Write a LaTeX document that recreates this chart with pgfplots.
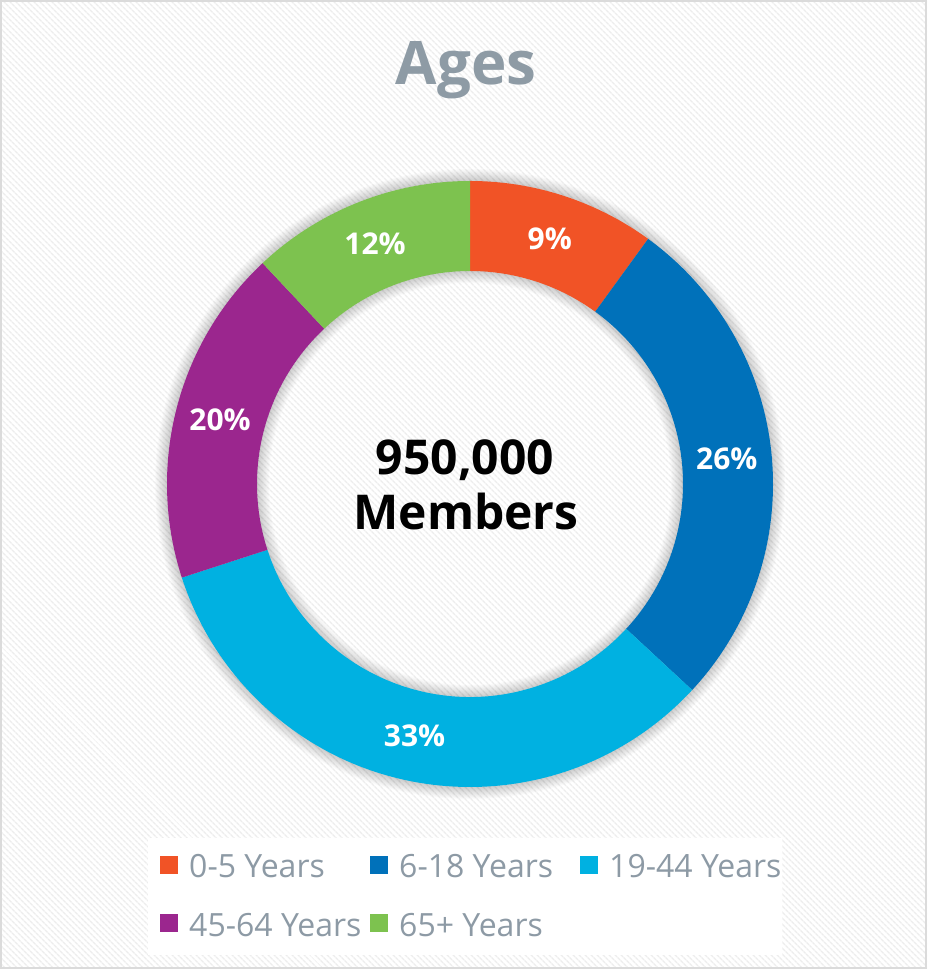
\documentclass[border=0pt]{standalone}
\usepackage{pgfplots}
\pgfplotsset{compat=1.18}
\usepackage{pgfplotstable}
\usetikzlibrary{patterns.meta}
\usepackage{fontspec}
\setmainfont{Open Sans}
\definecolor{c0}{HTML}{F15326}
\definecolor{c1}{HTML}{0071BA}
\definecolor{c2}{HTML}{00B1E1}
\definecolor{c3}{HTML}{9B268E}
\definecolor{c4}{HTML}{7DC24F}
\definecolor{titlegray}{HTML}{8E9BA5}
\definecolor{leggray}{HTML}{8D9AA5}
\newcommand\pctfont{\fontsize{30}{36}\selectfont\bfseries}
% share of the ring (as drawn) and the printed percentage
\pgfplotstableread{
share label
10.0 9
26.9 26
33.1 33
18.0 20
12.0 12
}\agedata
\begin{document}
\begin{tikzpicture}
\begin{axis}[x=1pt,y=1pt,xmin=0,xmax=927,ymin=0,ymax=969,hide axis,clip=false,
  legend columns=3, legend cell align=left,
  legend image code/.code={\fill[#1,draw=none] (0pt,-7pt) rectangle (18pt,11pt);},
  legend style={at={(axis description cs:0.1726,0.1207)}, anchor=north west,
    draw=none, fill=none, inner xsep=0pt, inner ysep=0pt,
    font=\fontsize{32}{38}\selectfont, text=leggray, row sep=30pt,
    /tikz/every odd column/.append style={column sep=9pt},
    /tikz/every even column/.append style={column sep=4pt}}]
% background
\fill[white] (axis cs:0,0) rectangle (axis cs:927,969);
\fill[pattern={Lines[angle=-45,distance=4pt,line width=1.5pt]}, pattern color=black!7] (axis cs:0,0) rectangle (axis cs:927,969);
\draw[black!14, line width=2pt] (axis cs:1,1) rectangle (axis cs:926,968);
% legend box
\fill[white] (axis cs:148,14) rectangle (axis cs:782,131);
% shadow
\pgfplotsinvokeforeach{1,...,12}{
  \draw[black, opacity=0.016, line width=90pt+#1*2pt] (axis cs:470,485) circle[radius=258];
}
% sectors
\def\cum{90}
\pgfplotsforeachungrouped \i in {0,...,4}{%
  \pgfplotstablegetelem{\i}{share}\of\agedata \let\v=\pgfplotsretval
  \pgfplotstablegetelem{\i}{label}\of\agedata \let\lab=\pgfplotsretval
  \pgfmathsetmacro{\ea}{\cum-3.6*\v}%
  \pgfmathsetmacro{\ma}{(\cum+\ea)/2}%
  \pgfmathsetmacro{\lx}{470+258*cos(\ma)}%
  \pgfmathsetmacro{\ly}{485+258*sin(\ma)}%
  \edef\temp{\noexpand\fill[c\i] (axis cs:470,485) ++(\cum:303) arc[start angle=\cum, end angle=\ea, radius=303] -- ++(\ea:-90) arc[start angle=\ea, end angle=\cum, radius=213] -- cycle;
    \noexpand\node[text=white, font=\noexpand\pctfont] at (axis cs:\lx,\ly) {\lab\noexpand\%};}%
  \temp
  \global\let\cum=\ea
}
% title and centre text
\node[anchor=base, font=\fontsize{60}{72}\selectfont\bfseries, text=titlegray] at (axis cs:466,884) {Ages};
\node[anchor=base, font=\fontsize{48}{56}\selectfont\bfseries] at (axis cs:465,494) {950,000};
\node[anchor=base, font=\fontsize{48}{56}\selectfont\bfseries] at (axis cs:466,439) {Members};
% legend
\addlegendimage{fill=c0}\addlegendentry{\makebox[175pt][l]{0-5 Years}}
\addlegendimage{fill=c1}\addlegendentry{\makebox[175pt][l]{6-18 Years}}
\addlegendimage{fill=c2}\addlegendentry{\makebox[175pt][l]{19-44 Years}}
\addlegendimage{fill=c3}\addlegendentry{\makebox[175pt][l]{45-64 Years}}
\addlegendimage{fill=c4}\addlegendentry{\makebox[175pt][l]{65+ Years}}
\end{axis}
\end{tikzpicture}
\end{document}
